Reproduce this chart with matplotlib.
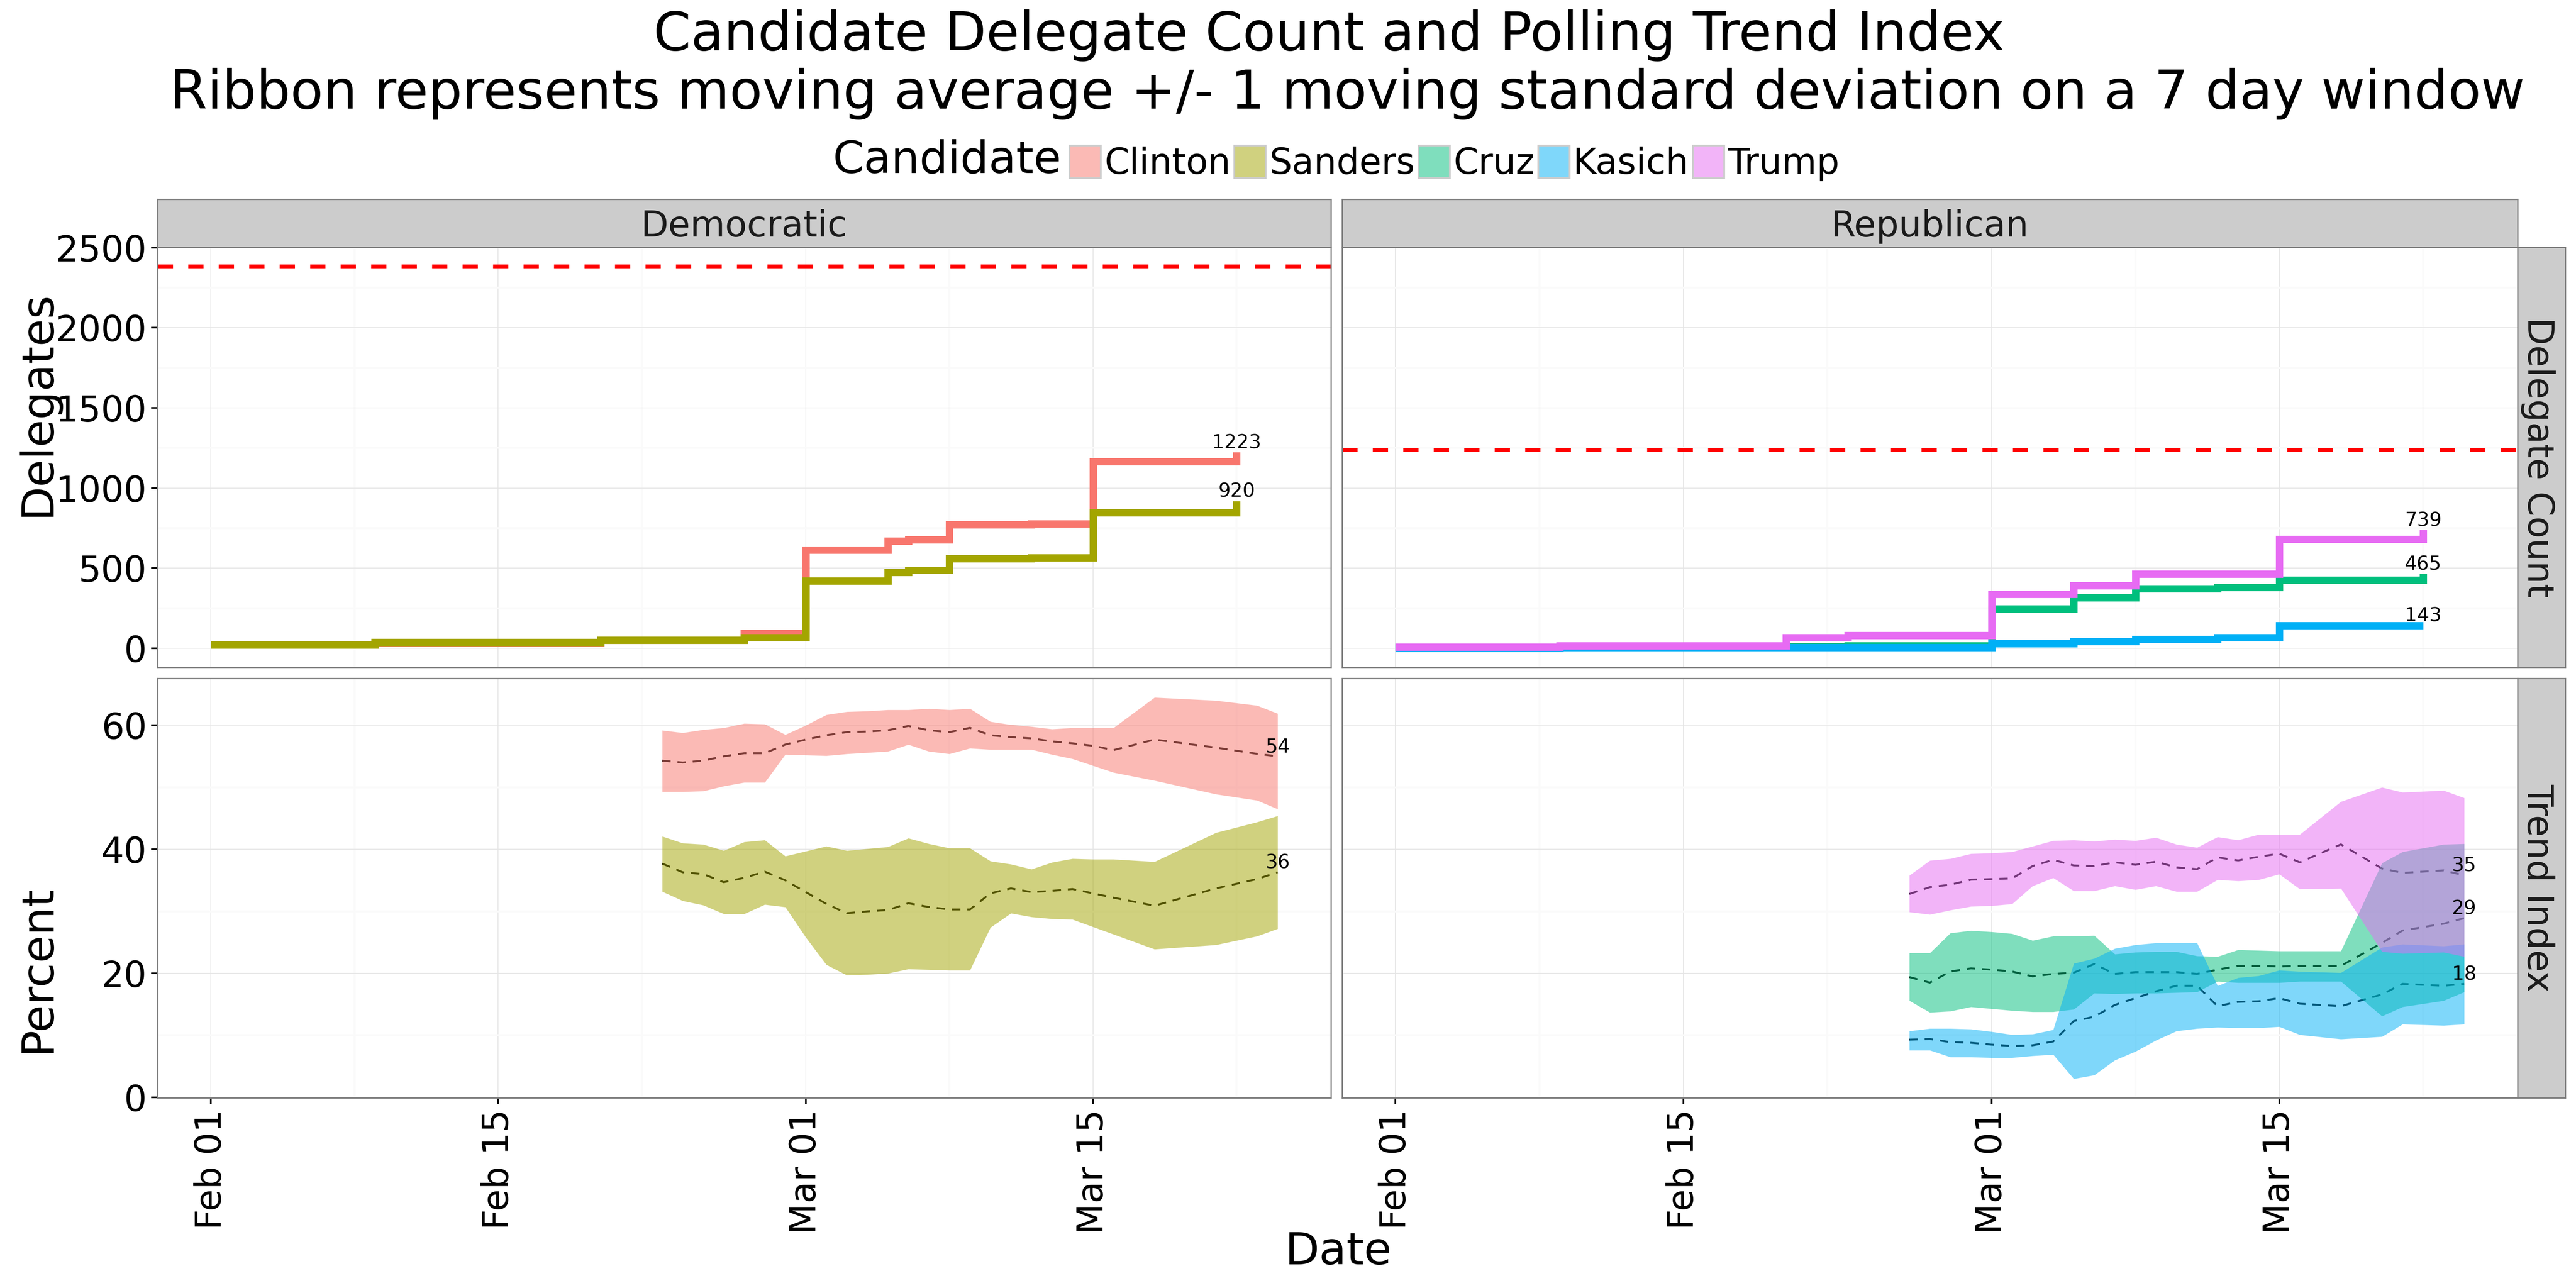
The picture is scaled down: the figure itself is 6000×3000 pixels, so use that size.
import pandas as pd
import matplotlib
matplotlib.use("Agg")
import matplotlib.pyplot as plt
import matplotlib.dates as mdates
from matplotlib.ticker import MultipleLocator
from matplotlib.patches import Patch
from matplotlib.colors import to_rgba

# ---------------- data ----------------
candidates = ["Clinton", "Sanders", "Cruz", "Kasich", "Trump"]
parties = ["Democratic", "Republican"]
party_candidates = {"Democratic": ["Clinton", "Sanders"],
                    "Republican": ["Cruz", "Kasich", "Trump"]}

# delegate counts (step changes)
dem_step_dates = ["2016-02-01", "2016-02-09", "2016-02-20", "2016-02-27", "2016-03-01",
                  "2016-03-05", "2016-03-06", "2016-03-08", "2016-03-12", "2016-03-15",
                  "2016-03-22"]
clinton_delegates = [23, 32, 52, 94, 612, 669, 678, 772, 776, 1164, 1223]
sanders_delegates = [21, 36, 51, 66, 420, 473, 488, 561, 565, 846, 920]

rep_step_dates = ["2016-02-01", "2016-02-09", "2016-02-20", "2016-02-23", "2016-03-01",
                  "2016-03-05", "2016-03-08", "2016-03-12", "2016-03-15", "2016-03-22"]
cruz_delegates = [8, 11, 11, 17, 247, 316, 373, 380, 426, 465]
kasich_delegates = [1, 5, 5, 6, 30, 43, 55, 68, 141, 143]
trump_delegates = [7, 17, 67, 81, 337, 392, 463, 463, 680, 739]

# delegates needed to win
thresholds = {"Democratic": 2383, "Republican": 1237}

# polling trend index (7 day moving average and +/- 1 sd)
dem_poll_dates = ["2016-02-23", "2016-02-24", "2016-02-25", "2016-02-26", "2016-02-27",
                  "2016-02-28", "2016-02-29", "2016-03-01", "2016-03-02", "2016-03-03",
                  "2016-03-04", "2016-03-05", "2016-03-06", "2016-03-07", "2016-03-08",
                  "2016-03-09", "2016-03-10", "2016-03-11", "2016-03-12", "2016-03-13",
                  "2016-03-14", "2016-03-15", "2016-03-16", "2016-03-18", "2016-03-21",
                  "2016-03-23", "2016-03-24"]
clinton_mean = [54.3, 54.0, 54.3, 55.0, 55.5, 55.5, 56.9, 57.7, 58.4, 58.9, 59.0, 59.2, 59.9,
                59.2, 58.9, 59.6, 58.4, 58.1, 57.9, 57.4, 57.1, 56.7, 56.0, 57.7, 56.4, 55.4, 55.0]
clinton_upper = [59.2, 58.8, 59.3, 59.6, 60.3, 60.2, 58.5, 60.0, 61.7, 62.2, 62.3, 62.5, 62.5,
                 62.7, 62.5, 62.7, 60.6, 60.1, 59.8, 59.4, 59.6, 59.6, 59.6, 64.5, 64.0, 63.2, 61.9]
clinton_lower = [49.3, 49.3, 49.4, 50.2, 50.8, 50.8, 55.3, 55.2, 55.1, 55.4, 55.6, 55.8, 56.9,
                 55.8, 55.4, 56.3, 56.1, 56.1, 56.1, 55.3, 54.6, 53.5, 52.4, 51.1, 48.9, 47.9, 46.5]
sanders_mean = [37.7, 36.3, 36.0, 34.7, 35.4, 36.4, 35.0, 33.1, 31.2, 29.7, 30.0, 30.2, 31.3,
                30.7, 30.3, 30.3, 32.9, 33.7, 33.1, 33.3, 33.6, 32.9, 32.2, 30.9, 33.7, 35.2, 36.3]
sanders_upper = [42.1, 41.0, 40.8, 39.8, 41.2, 41.5, 38.9, 39.7, 40.5, 39.8, 40.1, 40.4, 41.8,
                 40.9, 40.2, 40.2, 38.1, 37.6, 36.8, 37.9, 38.5, 38.4, 38.4, 38.0, 42.7, 44.4, 45.4]
sanders_lower = [33.2, 31.7, 31.0, 29.6, 29.6, 31.1, 30.7, 25.8, 21.4, 19.7, 19.8, 20.0, 20.7,
                 20.6, 20.5, 20.5, 27.4, 29.7, 29.1, 28.8, 28.7, 27.5, 26.3, 23.9, 24.6, 26.0, 27.2]

rep_poll_dates = ["2016-02-26", "2016-02-27", "2016-02-28", "2016-02-29", "2016-03-01",
                  "2016-03-02", "2016-03-03", "2016-03-04", "2016-03-05", "2016-03-06",
                  "2016-03-07", "2016-03-08", "2016-03-09", "2016-03-10", "2016-03-11",
                  "2016-03-12", "2016-03-13", "2016-03-14", "2016-03-15", "2016-03-16",
                  "2016-03-18", "2016-03-20", "2016-03-21", "2016-03-23", "2016-03-24"]
cruz_mean = [19.4, 18.5, 20.3, 20.8, 20.6, 20.3, 19.5, 19.9, 20.1, 21.5, 19.9, 20.2, 20.2,
             20.2, 19.9, 20.6, 21.2, 21.2, 21.1, 21.2, 21.2, 24.9, 26.9, 28.0, 28.9]
cruz_upper = [23.3, 23.3, 26.5, 26.9, 26.7, 26.4, 25.3, 26.0, 26.0, 26.1, 23.1, 23.4, 23.5,
              23.5, 22.8, 22.7, 23.8, 23.7, 23.6, 23.6, 23.6, 37.8, 39.6, 40.8, 40.9]
cruz_lower = [15.6, 13.7, 13.9, 14.6, 14.3, 14.0, 13.8, 13.8, 14.2, 16.8, 16.7, 16.8, 16.8,
              16.9, 17.0, 18.7, 18.5, 18.5, 18.5, 18.7, 18.7, 13.1, 14.6, 15.6, 17.0]
kasich_mean = [9.3, 9.4, 8.9, 8.8, 8.5, 8.3, 8.4, 9.0, 12.3, 13.0, 14.9, 16.0, 17.1,
               18.0, 18.0, 14.7, 15.4, 15.5, 16.0, 15.1, 14.7, 16.6, 18.3, 18.0, 18.3]
kasich_upper = [10.7, 11.1, 11.1, 11.0, 10.6, 10.1, 10.2, 10.9, 21.6, 22.4, 24.0, 24.6, 24.9,
                24.9, 24.9, 18.0, 19.3, 19.6, 20.5, 20.3, 20.1, 24.2, 24.7, 24.4, 24.7]
kasich_lower = [7.6, 7.6, 6.5, 6.5, 6.4, 6.4, 6.7, 6.9, 3.0, 3.6, 6.0, 7.4, 9.2,
                10.7, 11.1, 11.3, 11.2, 11.2, 11.4, 10.1, 9.4, 9.8, 11.8, 11.6, 11.8]
trump_mean = [32.8, 33.9, 34.3, 35.1, 35.2, 35.3, 37.3, 38.3, 37.4, 37.3, 37.9, 37.5, 38.0,
              37.1, 36.8, 38.7, 38.2, 38.8, 39.3, 37.9, 40.8, 36.9, 36.2, 36.6, 35.8]
trump_upper = [35.8, 38.2, 38.5, 39.3, 39.4, 39.6, 40.5, 41.4, 41.5, 41.3, 41.6, 41.4, 41.9,
               40.8, 40.3, 42.0, 41.5, 42.4, 42.4, 42.4, 47.7, 50.0, 49.2, 49.5, 48.3]
trump_lower = [29.9, 29.5, 30.2, 30.8, 30.9, 31.2, 34.1, 35.4, 33.3, 33.3, 34.1, 33.5, 34.1,
               33.2, 33.2, 35.1, 34.9, 35.1, 36.0, 33.6, 33.7, 23.5, 23.2, 23.4, 22.7]

# numbers printed at the end of each trend
poll_labels = {"Clinton": "54", "Sanders": "36", "Cruz": "29", "Kasich": "18", "Trump": "35"}

delegates = {
    "Clinton": (dem_step_dates, clinton_delegates),
    "Sanders": (dem_step_dates, sanders_delegates),
    "Cruz": (rep_step_dates, cruz_delegates),
    "Kasich": (rep_step_dates, kasich_delegates),
    "Trump": (rep_step_dates, trump_delegates),
}
polls = {
    "Clinton": (dem_poll_dates, clinton_mean, clinton_lower, clinton_upper),
    "Sanders": (dem_poll_dates, sanders_mean, sanders_lower, sanders_upper),
    "Cruz": (rep_poll_dates, cruz_mean, cruz_lower, cruz_upper),
    "Kasich": (rep_poll_dates, kasich_mean, kasich_lower, kasich_upper),
    "Trump": (rep_poll_dates, trump_mean, trump_lower, trump_upper),
}

# ---------------- style ----------------
colors = {"Clinton": "#F8766D", "Sanders": "#A3A500", "Cruz": "#00BF7D",
          "Kasich": "#00B0F6", "Trump": "#E76BF3"}
border = "#7F7F7F"

W, H = 6000, 3000
fig = plt.figure(figsize=(20, 10), dpi=300)


def box(x0, y0, x1, y1):
    # pixel box measured from the top left corner
    return [x0 / W, 1 - y1 / H, (x1 - x0) / W, (y1 - y0) / H]


cols = [(367, 3100), (3126, 5864)]
rows = [(576, 1554), (1580, 2557)]
row_names = ["Delegate Count", "Trend Index"]

# shared scales (ggplot style 5% expansion)
all_dates = pd.to_datetime(dem_step_dates + rep_step_dates + dem_poll_dates + rep_poll_dates)
dpad = (all_dates.max() - all_dates.min()) * 0.05
xlim = (all_dates.min() - dpad, all_dates.max() + dpad)

deleg_vals = [v for _, vals in delegates.values() for v in vals] + list(thresholds.values())
lo, hi = min(deleg_vals), max(deleg_vals)
deleg_lim = (lo - 0.05 * (hi - lo), hi + 0.05 * (hi - lo))

poll_vals = [v for p in polls.values() for arr in p[2:] for v in arr]
lo, hi = min(poll_vals), max(poll_vals)
poll_lim = (lo - 0.05 * (hi - lo), hi + 0.05 * (hi - lo))

axes = [[None, None], [None, None]]
for r, (y0, y1) in enumerate(rows):
    for c, (x0, x1) in enumerate(cols):
        ax = fig.add_axes(box(x0, y0, x1, y1))
        axes[r][c] = ax
        for s in ax.spines.values():
            s.set_color(border)
            s.set_linewidth(0.75)
        ax.set_xlim(xlim)
        ax.xaxis.set_major_locator(mdates.DayLocator(bymonthday=[1, 15]))
        ax.xaxis.set_minor_locator(mdates.DayLocator(bymonthday=[8, 22]))
        ax.xaxis.set_major_formatter(mdates.DateFormatter("%b %d"))
        if r == 0:
            ax.set_ylim(deleg_lim)
            ax.yaxis.set_major_locator(MultipleLocator(500))
            ax.yaxis.set_minor_locator(MultipleLocator(250))
        else:
            ax.set_ylim(poll_lim)
            ax.yaxis.set_major_locator(MultipleLocator(20))
            ax.yaxis.set_minor_locator(MultipleLocator(10))
        ax.set_axisbelow(True)
        ax.grid(True, which="minor", color="#FAFAFA", lw=1.07)
        ax.grid(True, which="major", color="#E5E5E5", lw=0.43)
        ax.tick_params(which="minor", length=0)
        ax.tick_params(which="major", length=3.5, width=0.9, color="black",
                       labelsize=20, labelcolor="black")
        ax.tick_params(axis="y", pad=2.5)
        ax.tick_params(axis="x", pad=3, labelrotation=90)
        if r == 0:
            ax.tick_params(axis="x", length=0, labelbottom=False)
        if c == 1:
            ax.tick_params(axis="y", length=0, labelleft=False)

# top strips
for c, (x0, x1) in enumerate(cols):
    sax = fig.add_axes(box(x0, 464, x1, 576))
    sax.set_facecolor("#CCCCCC")
    sax.set_xticks([])
    sax.set_yticks([])
    for s in sax.spines.values():
        s.set_color(border)
        s.set_linewidth(0.75)
    sax.text(0.5, (576 - 551) / 112, parties[c], transform=sax.transAxes,
             ha="center", va="baseline", fontsize=20, color="#1A1A1A")

# right strips
for r, (y0, y1) in enumerate(rows):
    sax = fig.add_axes(box(5864, y0, 5975, y1))
    sax.set_facecolor("#CCCCCC")
    sax.set_xticks([])
    sax.set_yticks([])
    for s in sax.spines.values():
        s.set_color(border)
        s.set_linewidth(0.75)
    sax.text((5888 - 5864) / 111, 0.5, row_names[r], transform=sax.transAxes,
             rotation=-90, rotation_mode="anchor", ha="center", va="baseline",
             fontsize=20, color="#1A1A1A")

# delegate counts
for c, party in enumerate(parties):
    ax = axes[0][c]
    ax.axhline(thresholds[party], color="#FF0000", lw=2.13, linestyle=(0, (4, 4)), zorder=2)
    for name in party_candidates[party]:
        d, v = delegates[name]
        d = pd.to_datetime(d)
        ax.plot(d, v, drawstyle="steps-post", color=colors[name], lw=4.1,
                solid_capstyle="butt", solid_joinstyle="miter", zorder=3)
        ax.text(d[-1], v[-1], str(v[-1]), ha="center", va="bottom", fontsize=10.8, zorder=5)

# polling trend
for c, party in enumerate(parties):
    ax = axes[1][c]
    for name in party_candidates[party]:
        d, m, low, up = polls[name]
        ax.plot(pd.to_datetime(d), m, color="black", lw=1.07,
                linestyle=(0, (4.4, 3.6)), zorder=2)
    for name in party_candidates[party]:
        d, m, low, up = polls[name]
        ax.fill_between(pd.to_datetime(d), low, up, color=colors[name], alpha=0.5,
                        lw=0, zorder=3)
    for name in party_candidates[party]:
        d, m, low, up = polls[name]
        ax.text(pd.to_datetime(d[-1]), m[-1], poll_labels[name], ha="center", va="bottom",
                fontsize=10.8, zorder=5)

# titles and labels
fig.text(3096 / W, 1 - 117 / H, "Candidate Delegate Count and Polling Trend Index",
         ha="center", va="baseline", fontsize=30)
fig.text(3138 / W, 1 - 253 / H,
         "Ribbon represents moving average +/- 1 moving standard deviation on a 7 day window",
         ha="center", va="baseline", fontsize=30)
fig.text(116 / W, 1 - 940 / H, "Delegates", rotation=90, rotation_mode="anchor",
         ha="center", va="baseline", fontsize=25)
fig.text(116 / W, 1 - 2256 / H, "Percent", rotation=90, rotation_mode="anchor",
         ha="center", va="baseline", fontsize=25)
fig.text(3117 / W, 1 - 2945 / H, "Date", ha="center", va="baseline", fontsize=25)

# legend
fig.text(1939 / W, 1 - 402 / H, "Candidate", ha="left", va="baseline", fontsize=25)
handles = [Patch(facecolor=to_rgba(colors[n], 0.5), edgecolor="#CCCCCC", linewidth=1.0)
           for n in candidates]
fig.legend(handles, candidates, loc="lower left", bbox_to_anchor=(2491 / W, 1 - 422 / H),
           ncol=5, frameon=False, fontsize=20, handlelength=0.876, handleheight=1.026,
           handletextpad=0.1, columnspacing=0.1, borderpad=0, borderaxespad=0)

fig.savefig("out.png", dpi=300, facecolor="white")
